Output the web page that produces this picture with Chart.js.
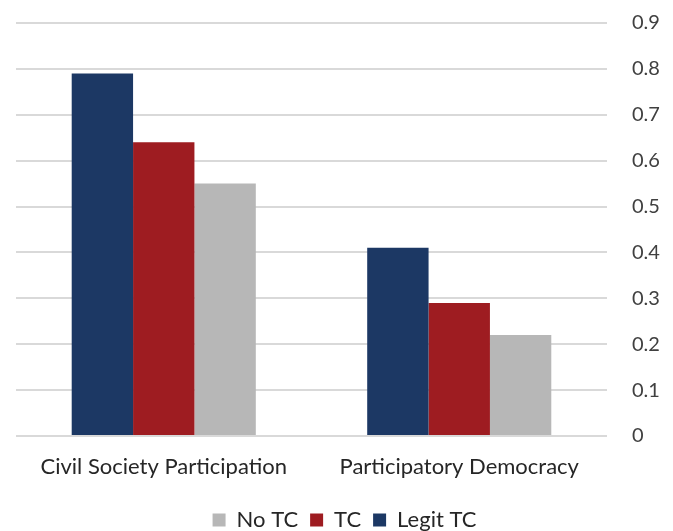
<!DOCTYPE html>
<html>
<head>
<meta charset="utf-8">
<script src="https://cdn.jsdelivr.net/npm/chart.js@4"></script>
<style>
  html, body { margin: 0; padding: 0; background: #fff; }
  #wrap { width: 673px; height: 531px; }
</style>
</head>
<body>
<div id="wrap"><canvas id="chart" width="673" height="531"></canvas></div>
<script>
const categories = ['Civil Society Participation', 'Participatory Democracy'];
const legitTc = [0.79, 0.41];
const tc = [0.64, 0.29];
const noTc = [0.55, 0.22];

const canvas = document.getElementById('chart');

new Chart(canvas, {
    type: 'bar',
    data: {
        labels: categories,
        datasets: [
            { label: 'Legit TC', data: legitTc, backgroundColor: '#1c3864' },
            { label: 'TC', data: tc, backgroundColor: '#9e1c21' },
            { label: 'No TC', data: noTc, backgroundColor: '#b7b7b7' },
        ],
    },
    options: {
        responsive: false,
        animation: false,
        devicePixelRatio: 1,
        layout: { padding: { top: 23, left: 16, right: 0, bottom: -10 } },
        datasets: {
            bar: { categoryPercentage: 0.623, barPercentage: 1 },
        },
        plugins: {
            tooltip: { enabled: false },
            legend: {
                position: 'bottom',
                reverse: true,
                labels: {
                    font: { family: 'Lato', size: 22 },
                    color: '#262626',
                    boxWidth: 13,
                    boxHeight: 13,
                    padding: 12,
                },
            },
        },
        scales: {
            x: {
                grid: { display: false },
                border: { display: false },
                ticks: {
                    font: { family: 'Lato', size: 22 },
                    color: '#262626',
                    padding: 10,
                    maxRotation: 0,
                },
                afterFit: (scale) => { scale.height = 61; },
            },
            y: {
                position: 'right',
                min: 0,
                max: 0.9,
                border: { display: false },
                grid: {
                    color: '#d9d9d9',
                    lineWidth: 2,
                    drawTicks: true,
                    tickLength: 25,
                    tickColor: 'rgba(0,0,0,0)',
                },
                ticks: {
                    stepSize: 0.1,
                    font: { family: 'Lato', size: 20 },
                    color: '#404040',
                    padding: 0,
                    callback: (v) => Number(v.toFixed(1)).toString(),
                },
                afterFit: (scale) => { scale.width = 66; },
            },
        },
    },
});
</script>
</body>
</html>
